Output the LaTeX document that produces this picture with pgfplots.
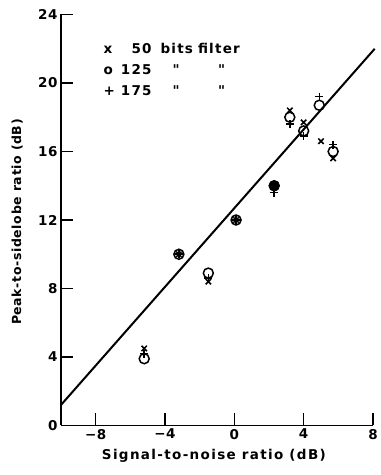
\documentclass[border=0pt]{standalone}
\usepackage{pgfplots}
\pgfplotsset{compat=1.18}
\usepackage{fontspec}
\setmainfont{DejaVu Sans}[UprightFont=* Bold, LetterSpace=4]
\newfontfamily\xlabfont{DejaVu Sans}[UprightFont=* Bold, LetterSpace=10]
\newfontfamily\ylabfont{DejaVu Sans}[UprightFont=* Bold, LetterSpace=5]
\newfontfamily\legfont{DejaVu Sans}[UprightFont=* Bold, LetterSpace=9]
\begin{document}
\begin{tikzpicture}
\begin{axis}[
  name=ax,
  scale only axis,
  width=312pt, height=411pt,
  xmin=-10, xmax=8, ymin=0, ymax=24,
  axis x line*=bottom, axis y line*=left,
  axis line style={line width=1.4pt},
  xtick={-8,-4,0,4,8}, xticklabels={−8,−4,0,4,8},
  ytick={0,4,8,12,16,20,24},
  tick align=inside, major tick length=12pt,
  tick style={line width=1.4pt, black},
  /pgf/number format/assume math mode=true,
  tick label style={font=\fontsize{13.5}{15}\selectfont},
  xlabel={Signal-to-noise ratio (dB)},
  ylabel={Peak-to-sidelobe ratio (dB)},
  xlabel style={font=\xlabfont\fontsize{13.5}{15}\selectfont, at={(rel axis cs:0.49,0)}, anchor=north, yshift=-20pt},
  ylabel style={font=\ylabfont\fontsize{12.5}{14}\selectfont, at={(rel axis cs:-0.14,0.495)}, anchor=center},
  clip=false,
]
\addplot[black, line width=2pt] coordinates {(-10,1.2) (8.1,22)};
% 50 bits (x)
\addplot[only marks, mark=x, mark size=3.8pt, black, line width=1.5pt] coordinates {
(-5.2,4.5) (-3.2,10) (-1.5,8.4) (0.1,12) (2.3,13.9) (3.2,18.4) (4.0,17.7) (5.0,16.6) (5.7,15.6)};
% 125 bits (o)
\addplot[only marks, mark=o, mark size=5pt, black, line width=1.5pt] coordinates {
(-5.2,3.9) (-3.2,10) (-1.5,8.9) (0.1,12) (2.3,14.0) (3.2,18.0) (4.0,17.2) (4.9,18.7) (5.7,16.0)};
% 175 bits (+)
\addplot[only marks, mark=+, mark size=4pt, black, line width=1.5pt] coordinates {
(-5.2,4.2) (-3.2,10) (-1.5,8.6) (0.1,12) (2.3,13.6) (3.2,17.6) (4.0,16.9) (4.9,19.2) (5.7,16.4)};
\addplot[only marks, mark=*, mark size=5pt, black] coordinates {(2.3,14.0)};
\node[anchor=north west, inner sep=0pt, font=\legfont\fontsize{13.5}{21}\selectfont] at (axis cs:-7.55,22.6) {%
\begin{tabular}{@{}l@{\hspace{6pt}}r@{\hspace{9pt}}l@{\hspace{5pt}}l@{}}
x & 50 & bits & filter\\
o & 125 & \hspace{12pt}" & \hspace{20pt}"\\
+ & 175 & \hspace{12pt}" & \hspace{20pt}"
\end{tabular}};
\end{axis}
\path (ax.south west) ++(-61pt,-49.5pt) coordinate (bl);
\path (ax.north east) ++(7pt,14.5pt) coordinate (tr);
\pgfresetboundingbox
\path (bl) rectangle (tr);
\end{tikzpicture}
\end{document}
